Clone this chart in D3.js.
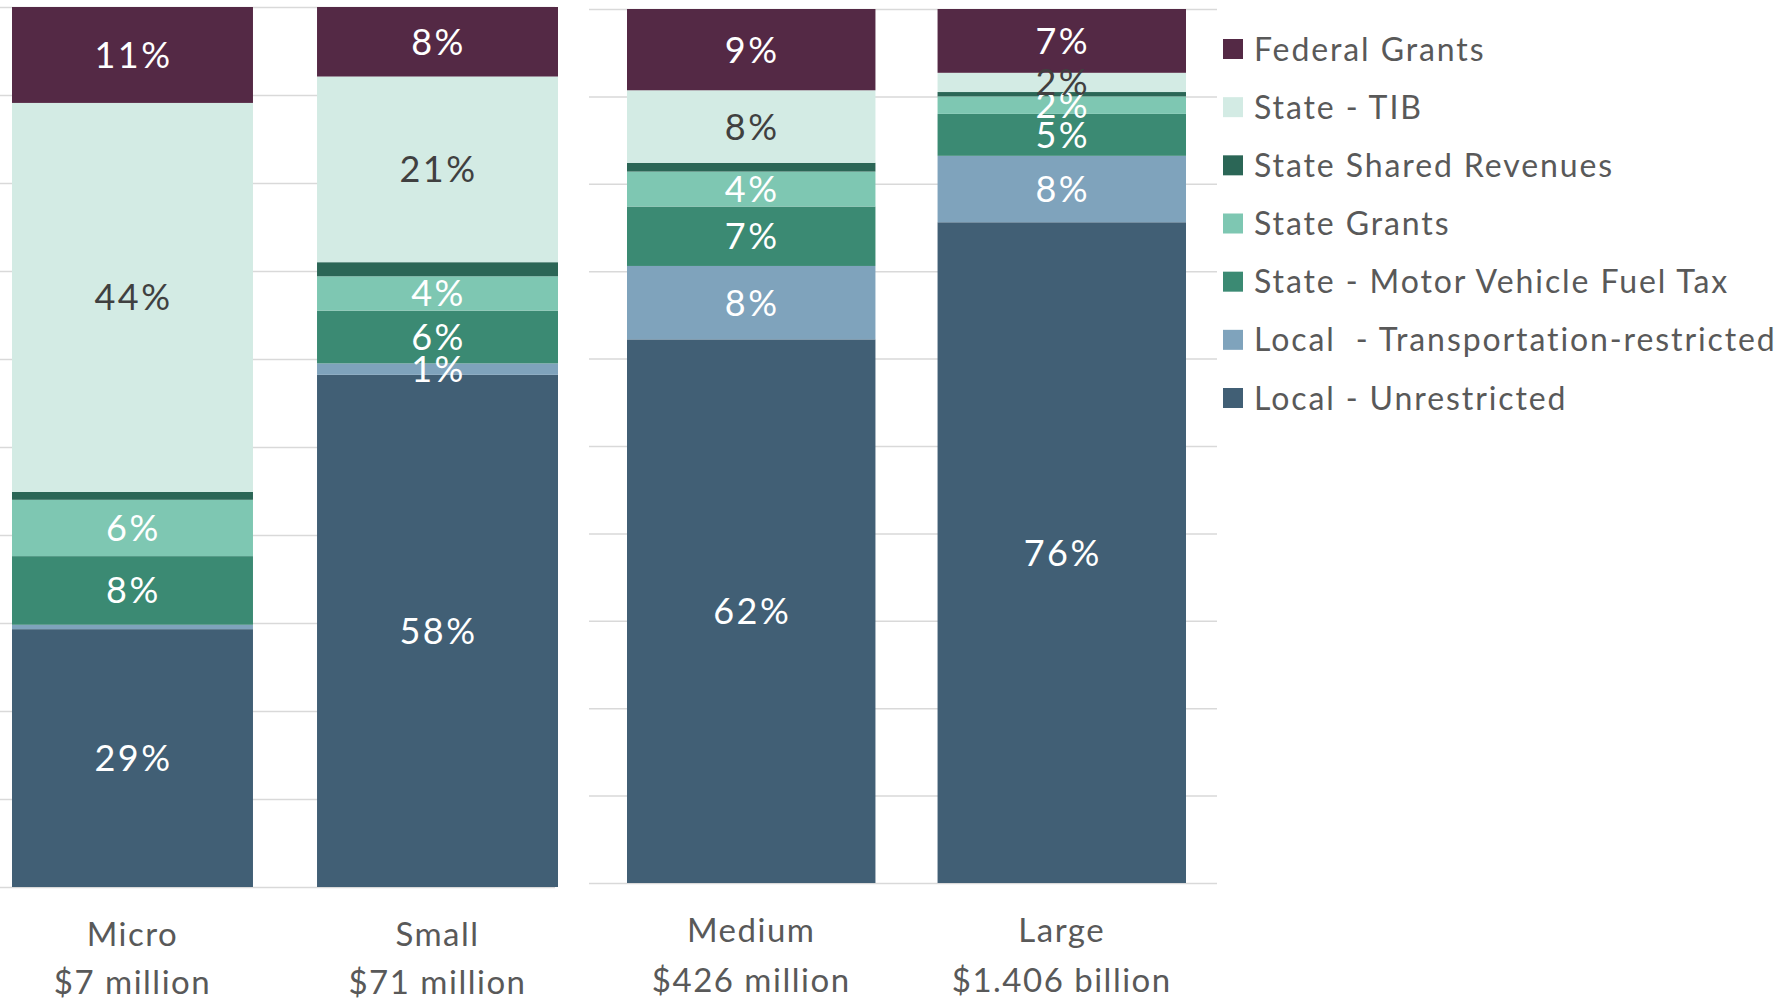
<!DOCTYPE html>
<html>
<head>
<meta charset="utf-8">
<script src="https://cdn.jsdelivr.net/npm/d3@7"></script>
<style>
  html, body { margin: 0; padding: 0; background: #ffffff; }
  svg text { font-family: Lato, "Noto Sans", sans-serif; }
</style>
</head>
<body>
<svg id="chart" width="1787" height="1001"></svg>
<script>
// ---------- data ----------
const categories = ["Micro", "Small", "Medium", "Large"];
const categoryTotals = ["$7 million", "$71 million", "$426 million", "$1.406 billion"];
const panelCategories = [["Micro", "Small"], ["Medium", "Large"]];

// stack order: bottom to top
const seriesNames = [
  "Local - Unrestricted",
  "Local  - Transportation-restricted",
  "State - Motor Vehicle Fuel Tax",
  "State Grants",
  "State Shared Revenues",
  "State - TIB",
  "Federal Grants"
];
// percent of total revenue, per category (Micro, Small, Medium, Large)
const localUnrestricted   = [29.3, 58.2, 62.2, 75.6];
const localTranspRestrict = [0.5, 1.3, 8.4, 7.6];
const stateFuelTax        = [7.8, 6.0, 6.8, 4.8];
const stateGrants         = [6.4, 3.9, 4.0, 2.0];
const stateShared         = [0.9, 1.6, 1.0, 0.5];
const stateTIB            = [44.2, 21.1, 8.3, 2.2];
const federalGrants       = [10.9, 7.9, 9.3, 7.3];
const seriesValues = [localUnrestricted, localTranspRestrict, stateFuelTax, stateGrants, stateShared, stateTIB, federalGrants];
const seriesShowLabels = [true, true, true, true, false, true, true];
const gridTicks = [0, 10, 20, 30, 40, 50, 60, 70, 80, 90, 100];

// ---------- style ----------
const colors = {
  "Local - Unrestricted": "#415F75",
  "Local  - Transportation-restricted": "#7FA3BC",
  "State - Motor Vehicle Fuel Tax": "#3B8A73",
  "State Grants": "#7EC7B2",
  "State Shared Revenues": "#2B6656",
  "State - TIB": "#D3EBE4",
  "Federal Grants": "#542945"
};
const darkLabelSeries = new Set(["State - TIB"]);

// rows for d3.stack
const rows = categories.map((c, i) => {
  const r = { category: c, total: categoryTotals[i] };
  seriesNames.forEach((s, j) => r[s] = seriesValues[j][i]);
  return r;
});
const stacked = d3.stack().keys(seriesNames)(rows);

const svg = d3.select("#chart");

const panels = [
  { cats: panelCategories[0], gridX: [0, 555], bandRange: [12, 558], pad: 0.21, y: [887, 7], catY: [946, 994] },
  { cats: panelCategories[1], gridX: [589, 1217], bandRange: [627, 1186], pad: 0.2, y: [883, 9], catY: [942, 992] }
];

panels.forEach(p => {
  const g = svg.append("g");
  const x = d3.scaleBand().domain(p.cats).range(p.bandRange).paddingInner(p.pad).paddingOuter(0);
  const y = d3.scaleLinear().domain([0, 100]).range(p.y);

  // gridlines
  const grid = g.append("g")
    .attr("transform", `translate(${p.gridX[0]},0)`)
    .call(d3.axisLeft(y).tickValues(gridTicks).tickSize(-(p.gridX[1] - p.gridX[0])).tickFormat(""));
  grid.select(".domain").remove();
  grid.selectAll(".tick line").attr("stroke", "#d9d9d9").attr("stroke-width", 1.5);

  // bars
  stacked.forEach((layer) => {
    const name = layer.key;
    const pts = layer.filter(d => p.cats.includes(d.data.category));
    g.append("g").selectAll("rect").data(pts).join("rect")
      .attr("x", d => x(d.data.category))
      .attr("width", x.bandwidth())
      .attr("y", d => y(d[1]))
      .attr("height", d => y(d[0]) - y(d[1]))
      .attr("fill", colors[name]);
  });

  // labels
  stacked.forEach((layer, si) => {
    const name = layer.key;
    if (!seriesShowLabels[si]) return;
    const pts = layer.filter(d => p.cats.includes(d.data.category) && (d[1] - d[0]) >= 1);
    g.append("g").selectAll("text").data(pts).join("text")
      .attr("x", d => x(d.data.category) + x.bandwidth() / 2 + 1)
      .attr("y", d => (y(d[0]) + y(d[1])) / 2)
      .attr("dy", "0.36em")
      .attr("text-anchor", "middle")
      .attr("font-size", 36)
      .attr("letter-spacing", 2.5)
      .attr("fill", darkLabelSeries.has(name) ? "#404040" : "#ffffff")
      .text(d => Math.round(d[1] - d[0]) + "%");
  });

  // category labels
  const cg = g.append("g").selectAll("g").data(rows.filter(r => p.cats.includes(r.category))).join("g");
  cg.append("text")
    .attr("x", d => x(d.category) + x.bandwidth() / 2)
    .attr("y", p.catY[0])
    .attr("text-anchor", "middle")
    .attr("font-size", 33)
    .attr("letter-spacing", 1.5)
    .attr("fill", "#595959")
    .text(d => d.category);
  cg.append("text")
    .attr("x", d => x(d.category) + x.bandwidth() / 2)
    .attr("y", p.catY[1])
    .attr("text-anchor", "middle")
    .attr("font-size", 33)
    .attr("letter-spacing", 1.5)
    .attr("fill", "#595959")
    .text(d => d.total);
});

// legend (top to bottom = reverse stack order)
const legendNames = seriesNames.slice().reverse();
const legendY = d3.scalePoint().domain(legendNames).range([49, 398]);
const lg = svg.append("g").selectAll("g").data(legendNames).join("g")
  .attr("transform", d => `translate(1223,${legendY(d)})`);
lg.append("rect").attr("x", 0).attr("y", -10).attr("width", 20).attr("height", 20).attr("fill", d => colors[d]);
lg.append("text").attr("x", 31).attr("y", 0).attr("dy", "0.36em")
  .attr("font-size", 32).attr("letter-spacing", 1.9).attr("fill", "#595959")
  .style("white-space", "pre")
  .text(d => d);
</script>
</body>
</html>
